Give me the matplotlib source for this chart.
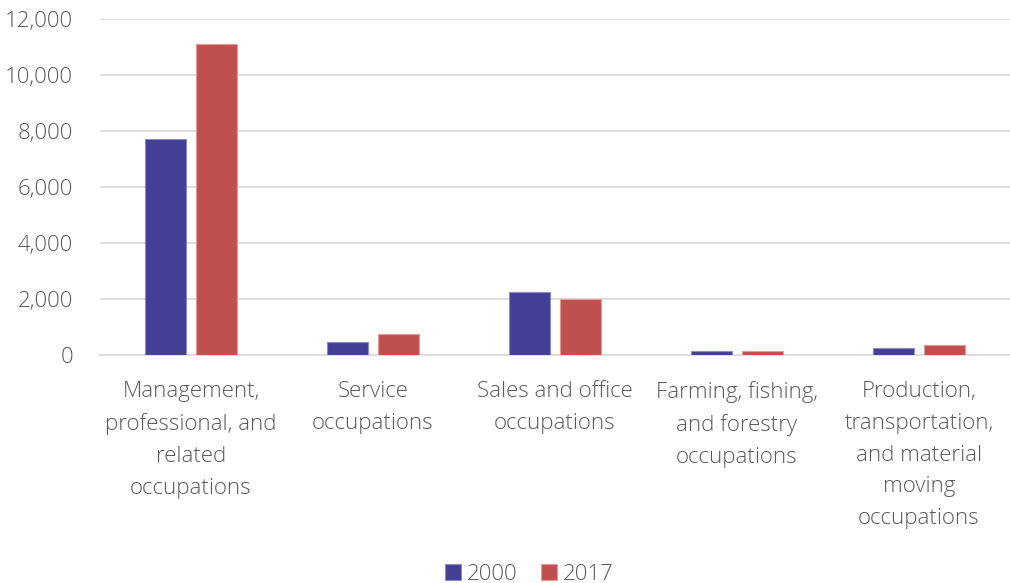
import matplotlib.pyplot as plt
import numpy as np
from matplotlib.ticker import FuncFormatter, MultipleLocator

categories = [
    "Management,\nprofessional, and\nrelated\noccupations",
    "Service\noccupations",
    "Sales and office\noccupations",
    "Farming, fishing,\nand forestry\noccupations",
    "Production,\ntransportation,\nand material\nmoving\noccupations",
]
series_names = ["2000", "2017"]
values_2000 = [7730, 480, 2240, 155, 250]
values_2017 = [11100, 755, 2000, 130, 360]

plt.rcParams['font.family'] = ['Open Sans', 'DejaVu Sans']
plt.rcParams['font.weight'] = 'light'
text_color = '#595959'

fig = plt.figure(figsize=(10.10, 5.83), dpi=100)
ax = fig.add_axes([0.099, 0.391, 0.901, 0.576])

x = np.arange(len(categories))
width = 0.225
gap = 0.06
colors = ['#423F95', '#C0504D']
edges = ['#8C8AC8', '#E39A98']
for i, (vals, c, e, name) in enumerate(zip([values_2000, values_2017], colors, edges, series_names)):
    offset = (i - 0.5) * (width + gap)
    ax.bar(x + offset, vals, width, color=c, edgecolor=e, linewidth=0.8, label=name, zorder=3)

ax.set_xlim(-0.5, len(categories) - 0.5)
ax.set_ylim(0, 12000)
ax.yaxis.set_major_locator(MultipleLocator(2000))
ax.yaxis.set_major_formatter(FuncFormatter(lambda v, p: f"{int(v):,}"))
ax.grid(axis='y', color='#D9D9D9', linewidth=1.2, zorder=0)
for s in ['top', 'right', 'left']:
    ax.spines[s].set_visible(False)
ax.spines['bottom'].set_color('#D9D9D9')
ax.spines['bottom'].set_linewidth(1.2)
ax.tick_params(axis='y', length=0, pad=19.5, labelsize=16, labelcolor=text_color)
ax.tick_params(axis='x', length=0, pad=18.5, labelsize=16, labelcolor=text_color)
ax.set_xticks(x)
ax.set_xticklabels(categories, linespacing=1.68)

leg = fig.legend(loc='lower center', bbox_to_anchor=(0.524, -0.037), ncol=2, frameon=False,
                 fontsize=16, handlelength=0.7, handleheight=0.7, handletextpad=0.25,
                 columnspacing=1.1)
for t in leg.get_texts():
    t.set_color(text_color)

fig.savefig('out.png', dpi=100)
